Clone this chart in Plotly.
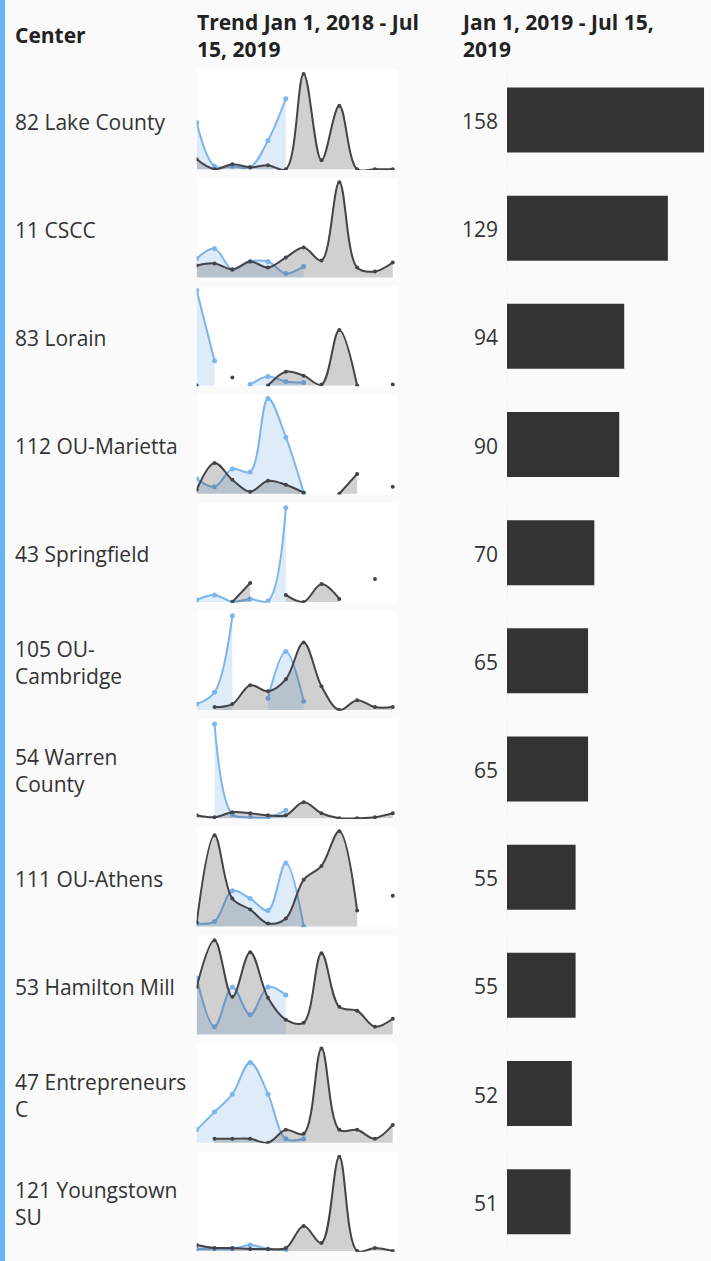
import plotly.graph_objects as go

# ---------------- data ----------------
months = ["Jan", "Feb", "Mar", "Apr", "May", "Jun", "Jul", "Aug", "Sep", "Oct", "Nov", "Dec"]

centers = ["82 Lake County", "11 CSCC", "83 Lorain", "112 OU-Marietta", "43 Springfield",
           "105 OU-<br>Cambridge", "54 Warren<br>County", "111 OU-Athens", "53 Hamilton Mill",
           "47 Entrepreneurs<br>C", "121 Youngstown<br>SU"]

totals = [158, 129, 94, 90, 70, 65, 65, 55, 55, 52, 51]

N = None
# blue series (current period)
trend_2019 = [
    [47, 3, 3, 2, 29, 71, N, N, N, N, N, N],
    [19, 29, 8, 16, 16, 4, 11, N, N, N, N, N],
    [96, 25, N, 1, 9, 4, 3, N, N, N, N, N],
    [15, 7, 25, 22, 96, 57, 1, N, N, N, N, N],
    [2, 7, 0, 3, 1, 95, N, N, N, N, N, N],
    [6, 18, 95, N, 12, 59, 9, N, N, N, N, N],
    [N, 95, 4, 1, 1, 8, N, N, N, N, N, N],
    [3, 5, 36, 28, 16, 64, 0, N, N, N, N, N],
    [57, 8, 48, 20, 48, 40, N, N, N, N, N, N],
    [13, 31, 49, 81, 49, 4, 4, N, N, N, N, N],
    [2, 2, 2, 6, 2, 1, N, N, N, N, N, N],
]
# dark series (previous period)
trend_2018 = [
    [10, 0, 5, 2, 4, 0, 96, 9, 64, 0, 0, 0],
    [12, 14, 8, 16, 10, 20, 30, 17, 96, 10, 6, 15],
    [0, N, 8, N, 0, 14, 10, 1, 56, 0, N, 1],
    [4, 31, 14, 2, 13, 9, 1, N, 0, 20, N, 7],
    [N, N, 0, 19, N, 7, 0, 18, 3, N, 23, N],
    [N, 3, 6, 25, 19, 31, 68, 24, 0, 10, 3, 3],
    [3, 1, 6, 5, 3, 3, 16, 5, 0, 0, 1, 5],
    [4, 92, 28, 17, 3, 8, 47, 61, 96, 16, N, 31],
    [48, 95, 38, 83, 37, 15, 12, 82, 28, 24, 8, 16],
    [N, 4, 4, 4, 0, 13, 9, 95, 13, 13, 4, 18],
    [6, 3, 3, 2, 2, 3, 25, 8, 95, 0, 3, 0],
]

header_center = "Center"
header_trend = "Trend Jan 1, 2018 - Jul<br>15, 2019"
header_total = "Jan 1, 2019 - Jul 15,<br>2019"

# ---------------- layout constants ----------------
W, H = 711, 1261
ROW_TOP0, ROW_STEP, BOX_H = 70.0, 108.17, 100.0
SPARK_X0, SPARK_X1 = 196.7, 396.7
BAR_X0 = 507.0
PX_PER_UNIT = 1.247
FONT = "Open Sans"
TXT = "#333333"
BLUE = "#7cb5ec"
DARK = "#434348"


def px_x(p):
    return p / W


def px_y(p):
    return 1 - p / H


def segments(values):
    """Split a series into runs of consecutive non-missing values."""
    runs, cur = [], []
    for j, v in enumerate(values):
        if v is None:
            if cur:
                runs.append(cur)
            cur = []
        else:
            cur.append(j)
    if cur:
        runs.append(cur)
    return runs


n = len(centers)
BAR_AX = n + 1

fig = go.Figure()
shapes = []
annotations = []
lay = {}

for i in range(n):
    k = i + 1
    xn = "x" if k == 1 else f"x{k}"
    yn = "y" if k == 1 else f"y{k}"
    top = ROW_TOP0 + ROW_STEP * i
    bot = top + BOX_H
    lay["xaxis" if k == 1 else f"xaxis{k}"] = dict(
        domain=[px_x(SPARK_X0), px_x(SPARK_X1)], anchor=yn, type="category",
        categoryorder="array", categoryarray=months,
        range=[0, 11.22], visible=False, fixedrange=True)
    lay["yaxis" if k == 1 else f"yaxis{k}"] = dict(
        domain=[px_y(bot), px_y(top)], anchor=xn, range=[-0.8, 100],
        visible=False, fixedrange=True)
    shapes.append(dict(type="rect", xref=f"{xn} domain", yref=f"{yn} domain",
                       x0=0, x1=1, y0=0, y1=1, fillcolor="white",
                       line=dict(width=0), layer="below"))
    for series, col, fcol, msize in ((trend_2019[i], BLUE, "rgba(124,181,236,0.25)", 5),
                                     (trend_2018[i], DARK, "rgba(67,67,72,0.25)", 4)):
        for run in segments(series):
            fig.add_trace(go.Scatter(
                x=[months[j] for j in run], y=[series[j] for j in run],
                xaxis=xn, yaxis=yn, mode="lines+markers",
                line=dict(color=col, width=2, shape="spline", smoothing=1),
                marker=dict(color=col, size=msize),
                fill="tozeroy" if len(run) > 1 else "none",
                fillcolor=fcol, showlegend=False, hoverinfo="skip"))

# bar subplot
band_top = ROW_TOP0 + BOX_H / 2 - ROW_STEP / 2
band_bot = ROW_TOP0 + BOX_H / 2 + ROW_STEP * (n - 1) + ROW_STEP / 2
bx = f"x{BAR_AX}"
by = f"y{BAR_AX}"
lay[f"xaxis{BAR_AX}"] = dict(domain=[px_x(BAR_X0), 1], anchor=by,
                             range=[0, (W - BAR_X0) / PX_PER_UNIT],
                             visible=False, fixedrange=True)
lay[f"yaxis{BAR_AX}"] = dict(domain=[px_y(band_bot), px_y(band_top)], anchor=bx,
                             range=[n - 0.5, -0.5], visible=False, fixedrange=True)
fig.add_trace(go.Bar(x=totals, y=list(range(n)), orientation="h", xaxis=bx, yaxis=by,
                     marker=dict(color="#333333", line=dict(width=0)),
                     width=65 / ROW_STEP, showlegend=False, hoverinfo="skip"))

half = (BOX_H / 2) / ROW_STEP
for i in range(n):
    shapes.append(dict(type="line", xref=bx, yref=by, x0=0, x1=0,
                       y0=i - half, y1=i + half, line=dict(color="#ebebeb", width=1),
                       layer="below"))
    annotations.append(dict(text=centers[i], xref="paper", yref=by, x=px_x(13), y=i,
                            xanchor="left", yanchor="middle", align="left", yshift=-1.5,
                            showarrow=False, font=dict(family=FONT, size=21, color=TXT)))
    annotations.append(dict(text=str(totals[i]), xref="paper", yref=by, x=px_x(500), y=i,
                            xanchor="right", yanchor="middle", align="right", yshift=-1,
                            showarrow=False, font=dict(family=FONT, size=21, color=TXT)))

# left accent strip
shapes.append(dict(type="rect", xref="paper", yref="paper", x0=0, x1=px_x(5), y0=0, y1=1,
                   fillcolor="#64b5f6", line=dict(width=0), layer="below"))

# headers
hfont = dict(family=FONT, size=21, color="#222222")
annotations.append(dict(text=f"<b>{header_center}</b>", xref="paper", yref="paper",
                        x=px_x(13), y=px_y(34.5), xanchor="left", yanchor="middle",
                        showarrow=False, font=hfont, align="left"))
annotations.append(dict(text=f"<b>{header_trend}</b>", xref="paper", yref="paper",
                        x=px_x(195), y=px_y(35), xanchor="left", yanchor="middle",
                        showarrow=False, font=hfont, align="left"))
annotations.append(dict(text=f"<b>{header_total}</b>", xref="paper", yref="paper",
                        x=px_x(459), y=px_y(35), xanchor="left", yanchor="middle",
                        showarrow=False, font=hfont, align="left"))

fig.update_layout(width=W, height=H, margin=dict(l=0, r=0, t=0, b=0),
                  paper_bgcolor="#fafafa", plot_bgcolor="#fafafa",
                  shapes=shapes, annotations=annotations, showlegend=False,
                  font=dict(family=FONT, color=TXT), **lay)

fig.write_html("out.html", config={"displayModeBar": False},
               post_script="document.body.style.margin='0';document.body.style.overflow='hidden';")
